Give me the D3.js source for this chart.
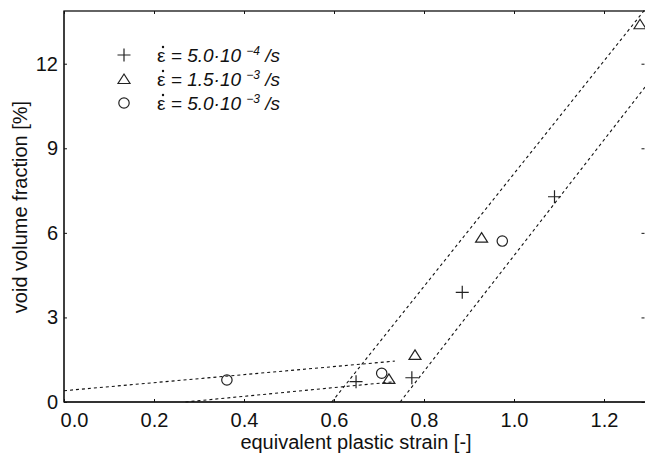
<!DOCTYPE html>
<html>
<head>
<meta charset="utf-8">
<script src="https://cdn.jsdelivr.net/npm/d3@7"></script>
<style>
  body { margin: 0; background: #fff; }
  text { font-family: Arial, "Liberation Sans", sans-serif; fill: #111; }
</style>
</head>
<body>
<div id="chart"></div>
<script>
// data
var plusX = [0.649, 0.773, 0.885, 1.09];
var plusY = [0.72, 0.86, 3.89, 7.28];
var triX = [0.722, 0.78, 0.928, 1.28];
var triY = [0.82, 1.67, 5.83, 13.4];
var circX = [0.362, 0.706, 0.974];
var circY = [0.78, 1.02, 5.71];

// fitted dashed lines, [x0, y0, x1, y1]
var fitLines = [
  [0.0, 0.40, 0.735, 1.45],
  [0.27, 0.0, 0.735, 0.72],
  [0.595, 0.0, 1.29, 13.9],
  [0.747, 0.0, 1.30, 11.35]
];

var xTicks = [0.0, 0.2, 0.4, 0.6, 0.8, 1.0, 1.2];
var yTicks = [0, 3, 6, 9, 12];
var legendLabels = [["5.0", "\u22124"], ["1.5", "\u22123"], ["5.0", "\u22123"]];

var svgWidth = 645, svgHeight = 462;
var margin = { top: 11, left: 64, right: -4, bottom: 60 };
var width = svgWidth - margin.left - margin.right;
var height = svgHeight - margin.top - margin.bottom;

var svg = d3.select("#chart").append("svg")
  .attr("width", svgWidth)
  .attr("height", svgHeight);

var g = svg.append("g")
  .attr("transform", `translate(${margin.left}, ${margin.top})`);

var x = d3.scaleLinear().domain([0, 1.3]).range([0, width]);
var y = d3.scaleLinear().domain([0, 13.87]).range([height, 0]);

// frame
g.append("rect")
  .attr("width", width).attr("height", height)
  .attr("fill", "none").attr("stroke", "#111").attr("stroke-width", 1.3);
g.append("line")
  .attr("x1", 0).attr("x2", width).attr("y1", height).attr("y2", height)
  .attr("stroke", "#333").attr("stroke-width", 2);
g.append("line")
  .attr("x1", 0).attr("x2", 0).attr("y1", 0).attr("y2", height)
  .attr("stroke", "#333").attr("stroke-width", 1.5);

// inward ticks on all four sides
var xAxisB = d3.axisBottom(x).tickValues(xTicks).tickSizeInner(-3).tickSizeOuter(0).tickPadding(11).tickFormat(d3.format(".1f"));
var xAxisT = d3.axisTop(x).tickValues(xTicks).tickSizeInner(-3).tickSizeOuter(0).tickFormat("");
var yAxisL = d3.axisLeft(y).tickValues(yTicks).tickSizeInner(-3).tickSizeOuter(0).tickPadding(6);
var yAxisR = d3.axisRight(y).tickValues(yTicks).tickSizeInner(-3).tickSizeOuter(0).tickFormat("");

var gx = g.append("g").attr("transform", `translate(0, ${height})`).call(xAxisB);
g.append("g").call(xAxisT);
var gy = g.append("g").call(yAxisL);
g.append("g").attr("transform", `translate(${x(1.29)}, 0)`).call(yAxisR);

svg.selectAll(".domain").remove();
svg.selectAll(".tick line").attr("stroke", "#111");
gx.selectAll("text").attr("font-size", 20).attr("fill", "#111");
gx.selectAll("text").filter(d => d === 0).attr("dx", 10);
gy.selectAll("text").attr("font-size", 20).attr("fill", "#111");

// dashed fit lines
g.selectAll(".fit")
  .data(fitLines)
  .enter()
  .append("line")
  .attr("class", "fit")
  .attr("x1", d => x(d[0])).attr("y1", d => y(d[1]))
  .attr("x2", d => x(d[2])).attr("y2", d => y(d[3]))
  .attr("stroke", "#111")
  .attr("stroke-width", 1.1)
  .attr("stroke-dasharray", "3,3");

// marker shapes
function drawPlus(sel) {
  sel.append("path").attr("d", "M-6.5,0H6.5M0,-6.5V6.5")
    .attr("stroke", "#222").attr("stroke-width", 1.2).attr("fill", "none");
}
function drawTri(sel) {
  sel.append("path").attr("d", "M0,-5L6,4.5L-6,4.5Z")
    .attr("stroke", "#222").attr("stroke-width", 1.2).attr("fill", "none");
}
function drawCirc(sel) {
  sel.append("circle").attr("r", 5.2)
    .attr("stroke", "#222").attr("stroke-width", 1.2).attr("fill", "none");
}

g.selectAll(".plus").data(plusX).enter().append("g")
  .attr("transform", (d, i) => `translate(${x(d)}, ${y(plusY[i])})`)
  .call(drawPlus);
g.selectAll(".tri").data(triX).enter().append("g")
  .attr("transform", (d, i) => `translate(${x(d)}, ${y(triY[i])})`)
  .call(drawTri);
g.selectAll(".circ").data(circX).enter().append("g")
  .attr("transform", (d, i) => `translate(${x(d)}, ${y(circY[i])})`)
  .call(drawCirc);

// axis titles
svg.append("text")
  .attr("x", 356).attr("y", 449)
  .attr("text-anchor", "middle").attr("font-size", 20)
  .text("equivalent plastic strain [-]");
svg.append("text")
  .attr("transform", "translate(27, 207) rotate(-90)")
  .attr("text-anchor", "middle").attr("font-size", 20)
  .text("void volume fraction [%]");

// legend
var markers = [drawPlus, drawTri, drawCirc];
var legend = svg.append("g").attr("transform", "translate(124, 55)");
legendLabels.forEach(function(lab, i) {
  var row = legend.append("g").attr("transform", `translate(0, ${i * 24})`);
  row.append("g").call(markers[i]);
  // rate dot over epsilon
  row.append("circle").attr("cx", 39).attr("cy", -8).attr("r", 1.2).attr("fill", "#111");
  var t = row.append("text").attr("x", 33).attr("y", 7).attr("font-size", 19);
  t.append("tspan").text("\u03B5");
  t.append("tspan").attr("font-style", "italic").text("\u00A0= " + lab[0] + "\u00B710\u00A0");
  t.append("tspan").attr("font-style", "italic").attr("font-size", 12).attr("dy", -7).text(lab[1]);
  t.append("tspan").attr("font-style", "italic").attr("dy", 7).text("\u00A0/s");
});
</script>
</body>
</html>
